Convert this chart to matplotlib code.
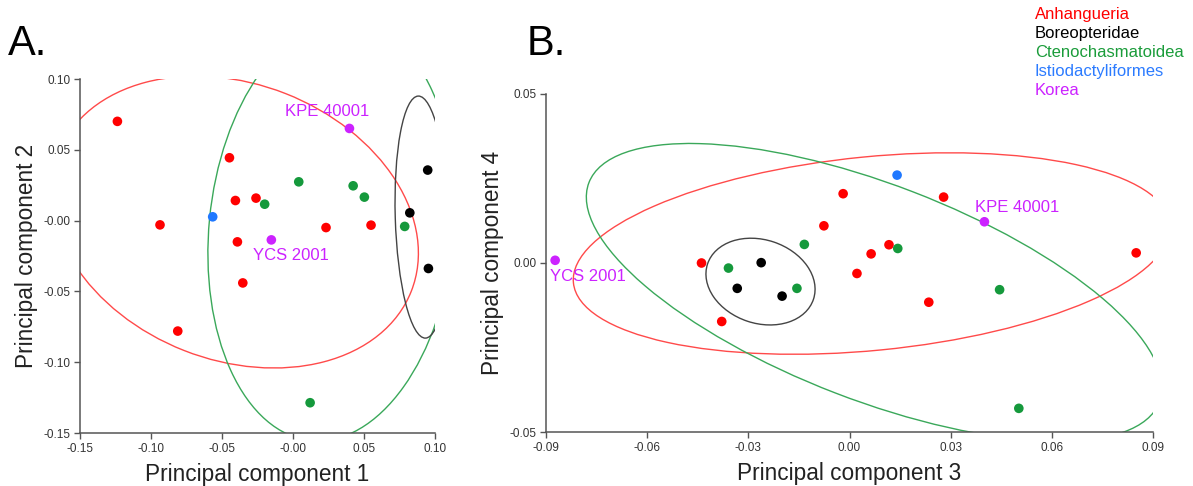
import matplotlib
matplotlib.use("Agg")
import matplotlib.pyplot as plt
from matplotlib.patches import Ellipse

plt.rcParams["font.family"] = ["Liberation Sans", "DejaVu Sans"]

# group colours
COL = {"Anhangueria": "#ff0000", "Boreopteridae": "#000000",
       "Ctenochasmatoidea": "#15993c", "Istiodactyliformes": "#1f78ff",
       "Korea": "#cc22ff"}
ELL_COL = {"Anhangueria": "#ff4a4a", "Boreopteridae": "#444444",
           "Ctenochasmatoidea": "#3aa85a"}
groups = ["Anhangueria", "Boreopteridae", "Ctenochasmatoidea",
          "Istiodactyliformes", "Korea"]

# ---- panel A: PC1 vs PC2 ----
A_red_x = [-0.1237, -0.0937, -0.0812, -0.0448, -0.0406, -0.0392, -0.0354, -0.0261, 0.0232, 0.0549]
A_red_y = [0.0701, -0.0030, -0.0780, 0.0444, 0.0142, -0.0150, -0.0440, 0.0159, -0.0049, -0.0032]
A_black_x = [0.0948, 0.0822, 0.0953]
A_black_y = [0.0357, 0.0055, -0.0338]
A_green_x = [-0.0200, 0.0040, 0.0423, 0.0502, 0.0786, 0.0120]
A_green_y = [0.0116, 0.0274, 0.0246, 0.0166, -0.0041, -0.1286]
A_blue_x = [-0.0566]
A_blue_y = [0.0027]
A_korea_x = [0.0397, -0.0153]
A_korea_y = [0.0651, -0.0136]
A_korea_lab = ["KPE 40001", "YCS 2001"]
A_lab_x = [-0.0056, -0.0284]
A_lab_y = [0.0769, -0.0248]
# ellipses: centre x, centre y, width, height, angle
A_ell = {"Anhangueria": (-0.041, -0.001, 0.267, 0.195, -21.5),
         "Ctenochasmatoidea": (0.027, -0.007, 0.298, 0.1724, 84.5),
         "Boreopteridae": (0.0907, 0.0025, 0.171, 0.0375, 91.7)}
A_xticks = [-0.15, -0.10, -0.05, 0.0, 0.05, 0.10]
A_xtlab = ["-0.15", "-0.10", "-0.05", "-0.00", "0.05", "0.10"]
A_yticks = [-0.15, -0.10, -0.05, 0.0, 0.05, 0.10]
A_ytlab = ["-0.15", "-0.10", "-0.05", "-0.00", "0.05", "0.10"]

# ---- panel B: PC3 vs PC4 ----
B_red_x = [-0.0439, -0.0379, -0.0076, -0.0019, 0.0064, 0.0022, 0.0117, 0.0279, 0.0235, 0.0850]
B_red_y = [0.0000, -0.0173, 0.0110, 0.0205, 0.0027, -0.0031, 0.0054, 0.0195, -0.0116, 0.0030]
B_black_x = [-0.0262, -0.0333, -0.0200]
B_black_y = [0.0001, -0.0075, -0.0098]
B_green_x = [-0.0359, -0.0156, -0.0134, 0.0143, 0.0445, 0.0502]
B_green_y = [-0.0015, -0.0075, 0.0055, 0.0043, -0.0079, -0.0430]
B_blue_x = [0.0141]
B_blue_y = [0.0260]
B_korea_x = [0.0400, -0.0873]
B_korea_y = [0.0122, 0.0008]
B_korea_lab = ["KPE 40001", "YCS 2001"]
B_lab_x = [0.0372, -0.0888]
B_lab_y = [0.0165, -0.0039]
B_ell = {"Anhangueria": (0.0066, 0.0028, 0.1778, 0.0573, 5.6),
         "Ctenochasmatoidea": (0.0073, -0.0087, 0.1812, 0.0638, -21.0),
         "Boreopteridae": (-0.0264, -0.0055, 0.0331, 0.0247, -18.4)}
B_xticks = [-0.09, -0.06, -0.03, 0.0, 0.03, 0.06, 0.09]
B_xtlab = ["-0.09", "-0.06", "-0.03", "0.00", "0.03", "0.06", "0.09"]
B_yticks = [-0.05, 0.0, 0.05]
B_ytlab = ["-0.05", "0.00", "0.05"]


def draw_panel(ax, pts, ell, lab, xlim, ylim, xt, xtl, yt, ytl, xlabel, ylabel):
    for g, (cx, cy, w, h, ang) in ell.items():
        ax.add_patch(Ellipse((cx, cy), w, h, angle=ang, fill=False,
                             edgecolor=ELL_COL[g], lw=1.0, zorder=2))
    for g, (xs, ys) in pts.items():
        ax.scatter(xs, ys, s=48, color=COL[g], edgecolor="none", zorder=3,
                   clip_on=False)
    for t, x, y in zip(*lab):
        ax.text(x, y, t, color=COL["Korea"], fontsize=12, va="center", ha="left")
    ax.set_xlim(*xlim); ax.set_ylim(*ylim)
    ax.set_xticks(xt); ax.set_xticklabels(xtl)
    ax.set_yticks(yt); ax.set_yticklabels(ytl)
    for s in ("top", "right"):
        ax.spines[s].set_visible(False)
    for s in ("left", "bottom"):
        ax.spines[s].set_color("#555555"); ax.spines[s].set_linewidth(1.1)
    ax.tick_params(direction="out", length=4, width=1, color="#555555",
                   labelsize=8.5, labelcolor="#333333", pad=3)
    ax.set_xlabel(xlabel, fontsize=16.3, color="#222222", labelpad=6)
    ax.set_ylabel(ylabel, fontsize=16.3, color="#222222", labelpad=4)


fig = plt.figure(figsize=(11.93, 4.86), dpi=100)
axA = fig.add_axes([0.0671, 0.109, 0.2976, 0.7284])
axB = fig.add_axes([0.4577, 0.1111, 0.5088, 0.6955])

draw_panel(axA,
           {"Anhangueria": (A_red_x, A_red_y), "Boreopteridae": (A_black_x, A_black_y),
            "Ctenochasmatoidea": (A_green_x, A_green_y),
            "Istiodactyliformes": (A_blue_x, A_blue_y), "Korea": (A_korea_x, A_korea_y)},
           A_ell, (A_korea_lab, A_lab_x, A_lab_y), (-0.15, 0.10), (-0.15, 0.10),
           A_xticks, A_xtlab, A_yticks, A_ytlab,
           "Principal component 1", "Principal component 2")
draw_panel(axB,
           {"Anhangueria": (B_red_x, B_red_y), "Boreopteridae": (B_black_x, B_black_y),
            "Ctenochasmatoidea": (B_green_x, B_green_y),
            "Istiodactyliformes": (B_blue_x, B_blue_y), "Korea": (B_korea_x, B_korea_y)},
           B_ell, (B_korea_lab, B_lab_x, B_lab_y), (-0.09, 0.09), (-0.05, 0.05),
           B_xticks, B_xtlab, B_yticks, B_ytlab,
           "Principal component 3", "Principal component 4")

fig.text(8 / 1193, 1 - 55 / 486, "A.", fontsize=30, ha="left", va="baseline")
fig.text(527 / 1193, 1 - 55 / 486, "B.", fontsize=30, ha="left", va="baseline")

# legend as coloured text
leg_col = {"Ctenochasmatoidea": "#1a9c3a", "Istiodactyliformes": "#2b7bff"}
for i, g in enumerate(groups):
    fig.text(1035 / 1193, 1 - (15 + i * 18.8) / 486, g, fontsize=12,
             color=leg_col.get(g, COL[g]), ha="left", va="center")

fig.savefig("out.png", dpi=100)
